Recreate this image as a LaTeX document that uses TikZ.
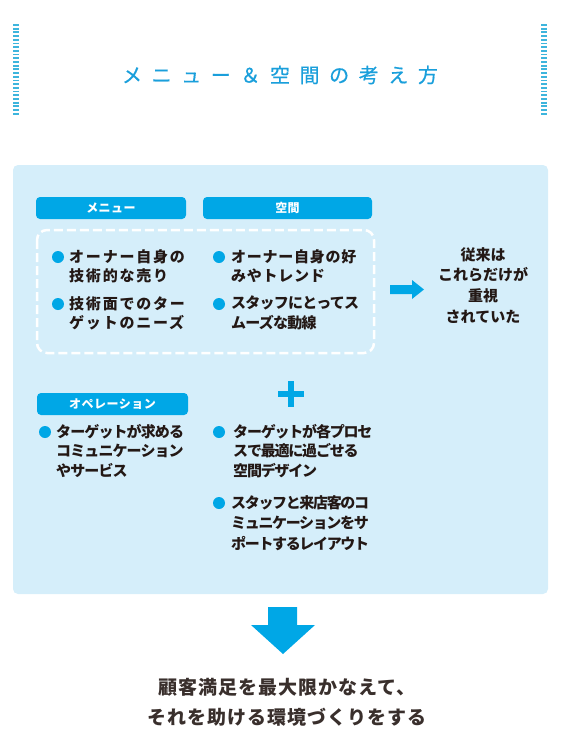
\documentclass[tikz,border=0pt]{standalone}
\usepackage{fontspec}
\usepackage{xcolor}
\setmainfont{Noto Sans CJK JP}
\newfontfamily\jp{Noto Sans CJK JP}
\newfontfamily\jptitre[FakeBold=0.6]{Noto Sans CJK JP}
\definecolor{BleuVif}{HTML}{00A7E6}
\definecolor{BleuPale}{HTML}{D5EEFA}
\definecolor{BleuTitre}{HTML}{1A9FDB}
\definecolor{BleuRayure}{HTML}{3DB5DD}
\definecolor{Encre}{HTML}{231815}
\tikzset{
Onglet/.style={
 fill=BleuVif,
 rounded corners=4pt,
 minimum height=22pt,
 inner sep=0pt,
 text=white,
 font=\jp\bfseries\fontsize{12}{14}\selectfont\addfontfeature{LetterSpace=4}
 },
Puce/.style={
 circle,
 fill=BleuVif,
 minimum size=12pt,
 inner sep=0pt
 },
Corps/.style={
 anchor=north west,
 align=left,
 inner sep=0pt,
 text=Encre,
 font=\jp\bfseries\fontsize{15}{19.5}\selectfont\addfontfeature{LetterSpace=#1}
 },
Corps/.default={0},
Rayure/.style={
 draw=BleuRayure,
 line width=6pt,
 dash pattern=on 1.8pt off 1.9pt
 }
}
\begin{document}
\begin{tikzpicture}[x=1pt,y=-1pt]
\useasboundingbox (0,0) rectangle (565,755);
% en-tete
\draw[Rayure] (15.5,24) -- (15.5,116);
\draw[Rayure] (544,24) -- (544,116);
\node[text=BleuTitre, font=\jptitre\fontsize{20}{22}\selectfont\addfontfeature{LetterSpace=48}] (titre) at (280,75) {メニュー＆空間の考え方};
% cadre
\fill[BleuPale, rounded corners=5pt] (13,165) rectangle (548,594);
\node[Onglet, minimum width=150pt] (menu) at (111,208) {メニュー};
\node[Onglet, minimum width=169pt] (espace) at (287.5,208) {空間};
\draw[white, line width=2.5pt, dash pattern=on 9pt off 4pt, rounded corners=10pt] (37,230) rectangle (374,353);
\node[Puce] (p1) at (58,257) {};
\node[Corps=12] (t1) at (69,249) {オーナー自身の\\技術的な売り};
\node[Puce] (p2) at (58,304) {};
\node[Corps=12] (t2) at (69,296) {技術面でのター\\ゲットのニーズ};
\node[Puce] (p3) at (219,257) {};
\node[Corps=5] (t3) at (231,249) {オーナー自身の好\\みやトレンド};
\node[Puce] (p4) at (219,304) {};
\node[Corps=-5] (t4) at (231,296) {スタッフにとってス\\ムーズな動線};
% fleche droite
\fill[BleuVif] (390,285) -- (412,285) -- (412,280) -- (424,289.5) -- (412,299) -- (412,294) -- (390,294) -- cycle;
\node[Corps, anchor=north, align=center, font=\jp\bfseries\fontsize{15}{20.7}\selectfont] (avant) at (483,247) {従来は\\これらだけが\\重視\\されていた};
% plus
\fill[BleuVif] (278,391) rectangle (304,397);
\fill[BleuVif] (288,381) rectangle (294,407);
\node[Onglet, minimum width=151pt] (operation) at (112.5,404) {オペレーション};
\node[Puce] (p5) at (45,432) {};
\node[Corps=-6] (t5) at (56,424) {ターゲットが求める\\コミュニケーション\\やサービス};
\node[Puce] (p6) at (219,432) {};
\node[Corps=-8] (t6) at (233,424) {ターゲットが各プロセ\\スで最適に過ごせる\\空間デザイン};
\node[Puce] (p7) at (219,503) {};
\node[Corps=-9, font=\jp\bfseries\fontsize{15}{20.5}\selectfont\addfontfeature{LetterSpace=-9}] (t7) at (231,495) {スタッフと来店客のコ\\ミュニケーションをサ\\ポートするレイアウト};
% fleche bas
\fill[BleuVif] (268,607) -- (297,607) -- (297,625) -- (315,625) -- (283,654) -- (251,625) -- (268,625) -- cycle;
\node[text=Encre!90, align=center, font=\jp\bfseries\fontsize{19}{30}\selectfont\addfontfeature{LetterSpace=5}] (conclusion) at (287,702) {顧客満足を最大限かなえて、\\それを助ける環境づくりをする};
\end{tikzpicture}
\end{document}
